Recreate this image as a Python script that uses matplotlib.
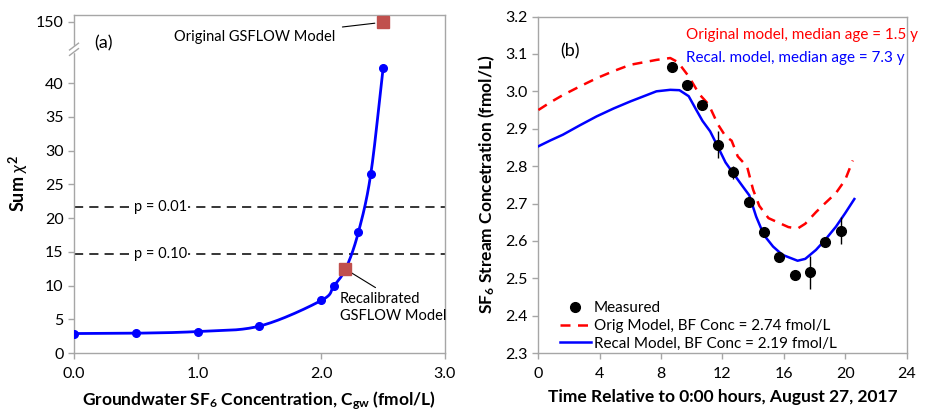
import numpy as np
import matplotlib
matplotlib.use('Agg')
import matplotlib.pyplot as plt
from matplotlib.lines import Line2D

plt.rcParams['font.family'] = ['Lato', 'DejaVu Sans']
plt.rcParams['mathtext.fontset'] = 'custom'
plt.rcParams['mathtext.rm'] = 'Lato'
plt.rcParams['mathtext.it'] = 'Lato:italic'
plt.rcParams['mathtext.bf'] = 'Lato:bold'

# ---- panel (a): sum chi2 vs groundwater SF6 concentration
cgw = [0.0, 0.5, 1.0, 1.5, 2.0, 2.1, 2.2, 2.3, 2.4, 2.5]
chi2 = [2.9, 2.95, 3.2, 4.0, 7.8, 9.9, 12.6, 17.9, 26.5, 42.2]
orig_pt = (2.5, 148.0)
recal_pt = (2.19, 12.5)
p_levels = [21.67, 14.68]
p_labels = ['p = 0.01', 'p = 0.10']
yticks_a = [0, 5, 10, 15, 20, 25, 30, 35, 40, 150]

# ---- panel (b): stream SF6 vs time
t_meas = [8.7, 9.7, 10.7, 11.7, 12.7, 13.7, 14.7, 15.7, 16.7, 17.7, 18.7, 19.7]
c_meas = [3.064, 3.017, 2.963, 2.857, 2.783, 2.703, 2.623, 2.558, 2.510, 2.516, 2.597, 2.627]
c_err = [0.012, 0.005, 0.008, 0.036, 0.018, 0.012, 0.008, 0.008, 0.012, 0.045, 0.008, 0.036]

t_orig = [0, 0.8, 1.6, 2.7, 3.8, 4.9, 6.0, 7.7, 8.6, 9.1, 9.8, 10.5, 11.1, 11.7, 12.2, 12.6,
          13.0, 13.4, 13.6, 14.0, 14.4, 15.0, 15.7, 16.3, 16.9, 17.4, 18.1, 18.7, 19.4, 20.0, 20.5]
c_orig = [2.950, 2.971, 2.990, 3.013, 3.035, 3.054, 3.071, 3.084, 3.089, 3.078, 3.040, 2.992,
          2.965, 2.912, 2.880, 2.868, 2.826, 2.808, 2.800, 2.737, 2.694, 2.661, 2.648, 2.637,
          2.633, 2.646, 2.677, 2.701, 2.728, 2.763, 2.815]
t_recal = [0, 0.8, 1.6, 2.7, 3.8, 4.9, 6.0, 7.7, 8.6, 9.2, 9.8, 10.3, 10.7, 11.2, 11.7, 12.2,
           12.7, 13.3, 13.75, 14.2, 14.7, 15.3, 15.9, 16.9, 17.4, 18.1, 18.7, 19.4, 20.0, 20.6]
c_recal = [2.853, 2.869, 2.884, 2.909, 2.933, 2.954, 2.973, 3.000, 3.004, 3.003, 2.987, 2.950,
           2.921, 2.893, 2.852, 2.810, 2.781, 2.747, 2.722, 2.665, 2.616, 2.585, 2.563, 2.547,
           2.552, 2.576, 2.603, 2.638, 2.674, 2.712]

BLUE = '#0000FF'
RED = '#FF0000'
SQ = '#C0504D'
GRAY = '#A6A6A6'


def smooth(x, y, sx=3.0, sy=50.0, n=30):
    # parametric Catmull-Rom through the points (like Excel smoothed line)
    p = np.column_stack([np.asarray(x) / sx, np.asarray(y) / sy])
    p = np.vstack([2 * p[0] - p[1], p, 2 * p[-1] - p[-2]])
    out = []
    tt = np.linspace(0, 1, n)[:, None]
    for i in range(1, len(p) - 2):
        p0, p1, p2, p3 = p[i - 1], p[i], p[i + 1], p[i + 2]
        seg = 0.5 * ((2 * p1) + (-p0 + p2) * tt + (2 * p0 - 5 * p1 + 4 * p2 - p3) * tt ** 2
                     + (-p0 + 3 * p1 - 3 * p2 + p3) * tt ** 3)
        out.append(seg)
    out = np.vstack(out)
    return out[:, 0] * sx, out[:, 1] * sy


BRK, K = 45.0, 0.039


def fwd(y):
    y = np.asarray(y, float)
    return np.where(y <= BRK, y, BRK + (y - BRK) * K)


def inv(y):
    y = np.asarray(y, float)
    return np.where(y <= BRK, y, BRK + (y - BRK) / K)


fig = plt.figure(figsize=(9.25, 4.13), dpi=100)
axa = fig.add_axes([0.080, 0.145, 0.401, 0.819])
axb = fig.add_axes([0.582, 0.145, 0.398, 0.815])

for ax in (axa, axb):
    for s in ax.spines.values():
        s.set_color(GRAY)
        s.set_linewidth(1.0)
    ax.tick_params(colors=GRAY, labelcolor='black', labelsize=11, length=4, width=1.0)

# ---- (a)
axa.set_yscale('function', functions=(fwd, inv))
axa.set_xlim(0, 3.0)
axa.set_ylim(0, 176)
axa.set_xticks([0, 1, 2, 3])
axa.set_xticklabels([f'{v:.1f}' for v in [0, 1, 2, 3]])
axa.set_yticks(yticks_a)
axa.tick_params(axis='x', labelsize=11.5, pad=6)
axa.tick_params(axis='y', labelsize=11.5)

sx, sy = smooth(cgw, chi2)
axa.plot(sx, sy, color=BLUE, lw=2, zorder=3)
axa.plot(cgw, chi2, 'o', color=BLUE, ms=5.5, zorder=4)
axa.plot(*orig_pt, 's', color=SQ, ms=9, zorder=5)
axa.plot(*recal_pt, 's', color=SQ, ms=9, zorder=5)

for lev, lab in zip(p_levels, p_labels):
    axa.axhline(lev, color='black', lw=1.1, ls=(0, (6, 4)), zorder=2)
    axa.text(0.70, lev, lab, ha='center', va='center', fontsize=10.5,
             bbox=dict(facecolor='white', edgecolor='none', pad=0.5), zorder=2.5)

axa.text(0.055, 0.915, '(a)', transform=axa.transAxes, fontsize=13, va='center')
axa.annotate('Original GSFLOW Model', xy=orig_pt, xytext=(0.705, 0.934),
             textcoords='axes fraction', ha='right', va='center', fontsize=10.5,
             arrowprops=dict(arrowstyle='-', color='black', lw=0.8, shrinkA=3, shrinkB=6))
axa.annotate('Recalibrated\nGSFLOW Model', xy=recal_pt, xytext=(2.15, 6.8),
             ha='left', va='center', fontsize=10.5, linespacing=1.25,
             arrowprops=dict(arrowstyle='-', color='black', lw=0.8, relpos=(0.4, 1.0),
                             shrinkA=2, shrinkB=4))

# axis break marks on left spine
yb = 45.0 / 50.1
for dy in (-0.008, 0.008):
    axa.plot([-0.012, 0.012], [yb + dy - 0.01, yb + dy + 0.01], transform=axa.transAxes,
             color=GRAY, lw=1.0, clip_on=False, zorder=6)
axa.plot([0, 0], [yb - 0.006, yb + 0.006], transform=axa.transAxes, color='white',
         lw=2.5, clip_on=False, zorder=5.5)

axa.set_ylabel('Sum $\\chi^{\\mathbf{2}}$', fontsize=13, fontweight='bold', labelpad=4)
axa.set_xlabel('Groundwater SF$_\\mathbf{6}$ Concentration, C$_\\mathbf{gw}$ (fmol/L)',
               fontsize=12.5, fontweight='bold', labelpad=6)

# ---- (b)
axb.set_xlim(0, 24)
axb.set_ylim(2.3, 3.2)
axb.set_xticks(np.arange(0, 25, 4))
axb.set_yticks(np.round(np.arange(2.3, 3.21, 0.1), 1))
axb.yaxis.set_major_formatter(matplotlib.ticker.FormatStrFormatter('%.1f'))
axb.tick_params(axis='x', labelsize=11.5, pad=6)
axb.tick_params(axis='y', labelsize=11.5)

axb.errorbar(t_meas, c_meas, yerr=c_err, fmt='o', color='black', ms=7, elinewidth=1,
             capsize=0, zorder=5)
axb.plot(t_orig, c_orig, color=RED, lw=1.8, ls=(0, (4, 3)), zorder=3)
axb.plot(t_recal, c_recal, color=BLUE, lw=1.8, zorder=4)

axb.text(0.06, 0.895, '(b)', transform=axb.transAxes, fontsize=13, va='center')
axb.text(0.40, 0.945, 'Original model, median age = 1.5 y', transform=axb.transAxes,
         color=RED, fontsize=11, va='center')
axb.text(0.40, 0.878, 'Recal. model, median age = 7.3 y', transform=axb.transAxes,
         color=BLUE, fontsize=11, va='center')
handles = [Line2D([], [], ls='none', marker='o', color='black', ms=7),
           Line2D([], [], color=RED, lw=1.8, ls=(0, (4, 3))),
           Line2D([], [], color=BLUE, lw=1.8)]
labels = ['Measured', 'Orig Model, BF Conc = 2.74 fmol/L', 'Recal Model, BF Conc = 2.19 fmol/L']
axb.legend(handles, labels, loc='lower left', frameon=False, fontsize=11, handlelength=2.0,
           handletextpad=0.2, labelspacing=0.25, borderaxespad=0.3,
           bbox_to_anchor=(0.03, -0.025))

axb.set_ylabel('SF$_\\mathbf{6}$ Stream Concetration (fmol/L)', fontsize=12.5,
               fontweight='bold', labelpad=6)
axb.set_xlabel('Time Relative to 0:00 hours, August 27, 2017', fontsize=12.5,
               fontweight='bold', labelpad=6)

fig.savefig('out.png', dpi=100)
